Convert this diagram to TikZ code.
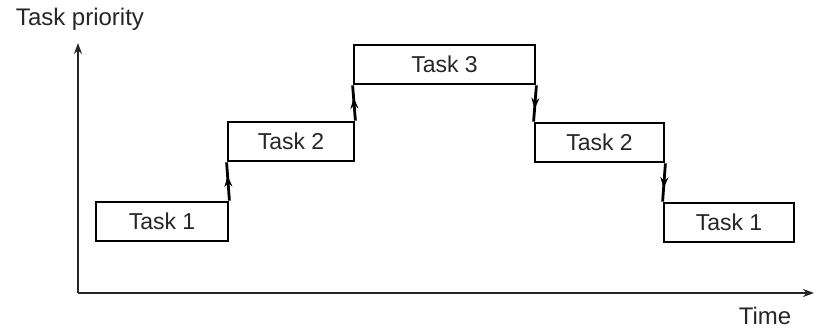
\documentclass[tikz,border=0pt]{standalone}
\usepackage{fontspec}
\setmainfont{Liberation Sans}
\usetikzlibrary{arrows.meta,decorations.markings}
\begin{document}
\begin{tikzpicture}[x=1pt,y=1pt,
  taskbox/.style={draw=black,line width=2.8pt,minimum height=39pt,inner sep=0pt,
    font=\fontsize{23}{25}\selectfont,text=black!85},
  axis/.style={draw=black!85,line width=2.8pt,-{Stealth[length=11pt,width=8pt]}},
  switch/.style={draw=black,line width=2.8pt,postaction={decorate},
    decoration={markings,mark=at position 0.65 with {\arrow{Stealth[length=11pt,width=8pt]}}}},
  lbl/.style={font=\fontsize{24}{26}\selectfont,text=black!85}]
\useasboundingbox (0,0) rectangle (817,331);
\coordinate (o) at (78,38);
\coordinate (ytop) at (78,288);
\coordinate (xend) at (814,38);
\draw[axis] (o) -- (ytop);
\draw[axis] (o) -- (xend);
\node[lbl] (ylab) at (80,312) {Task priority};
\node[lbl] (xlab) at (765,15) {Time};
\node[taskbox,minimum width=132pt] (t1a) at (162,109.5) {Task 1};
\node[taskbox,minimum width=126pt] (t2a) at (291,189.5) {Task 2};
\node[taskbox,minimum width=181pt] (t3) at (444.5,266.5) {Task 3};
\node[taskbox,minimum width=129pt] (t2b) at (599.5,188.5) {Task 2};
\node[taskbox,minimum width=130pt] (t1b) at (729,108.5) {Task 1};
\draw[switch] (t1a.north east) -- (t2a.south west);
\draw[switch] (t2a.north east) -- (t3.south west);
\draw[switch] (t3.south east) -- (t2b.north west);
\draw[switch] (t2b.south east) -- (t1b.north west);
\end{tikzpicture}
\end{document}
